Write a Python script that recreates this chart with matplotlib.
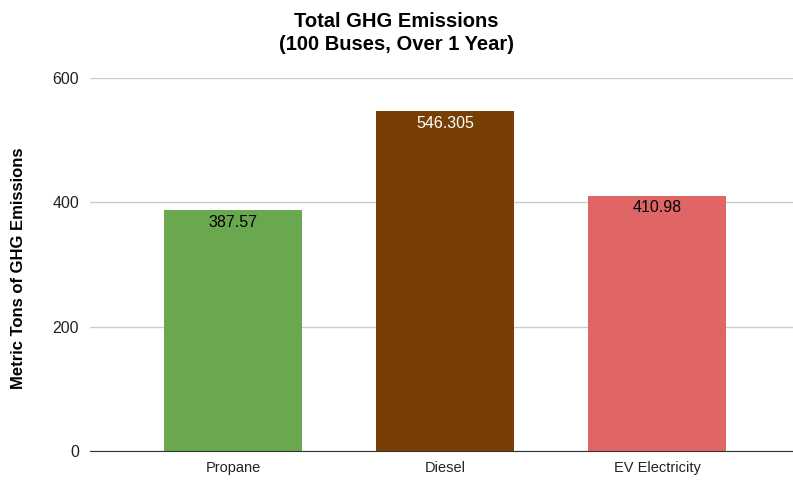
import matplotlib.pyplot as plt

plt.rcParams['font.family'] = ['Liberation Sans', 'DejaVu Sans']

fuels = ['Propane', 'Diesel', 'EV Electricity']
emissions = [387.57, 546.305, 410.98]
labels = ['387.57', '546.305', '410.98']
colors = ['#6aa84f', '#783f04', '#e06666']
label_colors = ['#000000', '#ffffff', '#000000']

fig = plt.figure(figsize=(7.93, 4.8), dpi=100)
ax = fig.add_axes([0.1135, 0.0604, 0.8865, 0.7771])

x = range(len(fuels))
bars = ax.bar(x, emissions, width=0.65, color=colors, zorder=3)

# value labels inside the top of each bar
for b, lab, c in zip(bars, labels, label_colors):
    ax.annotate(lab, (b.get_x() + b.get_width() / 2, b.get_height()),
                xytext=(0, -3.5), textcoords='offset points',
                ha='center', va='top', fontsize=11.5, color=c, zorder=4)

ax.set_xlim(-0.675, 2.64)
ax.set_ylim(0, 600)
ax.set_yticks([0, 200, 400, 600])
ax.set_xticks(list(x))
ax.set_xticklabels(fuels)
ax.grid(axis='y', color='#cccccc', linewidth=1, zorder=0)
for s in ['top', 'right', 'left']:
    ax.spines[s].set_visible(False)
ax.spines['bottom'].set_color('#333333')
ax.spines['bottom'].set_zorder(5)
ax.tick_params(axis='both', length=0, colors='#222222')
ax.tick_params(axis='y', pad=8, labelsize=11.5)
ax.tick_params(axis='x', pad=7, labelsize=10.5)

ax.set_ylabel('Metric Tons of GHG Emissions', fontsize=12, fontweight='bold')
ax.yaxis.set_label_coords((26 - 90) / (0.8865 * 793), 0.49)
fig.text(0.5, 0.975, 'Total GHG Emissions\n(100 Buses, Over 1 Year)', ha='center', va='top',
         fontsize=14.5, fontweight='bold', linespacing=1.3)

fig.savefig('out.png', dpi=100)
